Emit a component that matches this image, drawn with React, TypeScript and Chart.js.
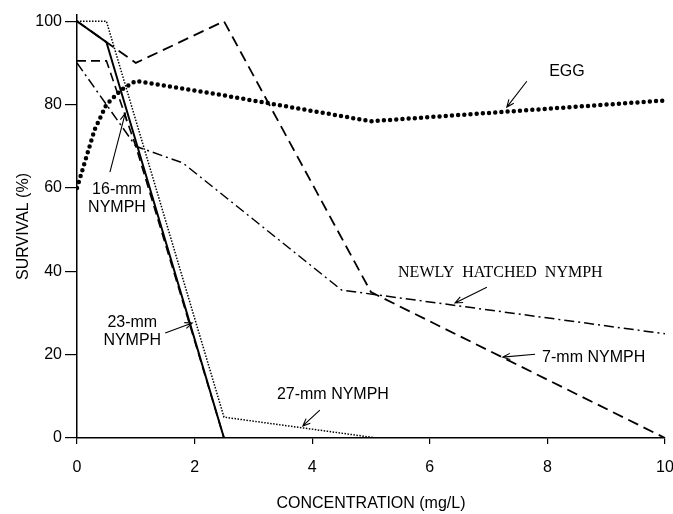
import React, { useEffect, useRef } from "react";
import { Chart, registerables } from "chart.js";

Chart.register(...registerables);

// ---- Data ----
const xTicks = [0, 2, 4, 6, 8, 10];
const yTicks = [0, 20, 40, 60, 80, 100];

const eggX = [0, 0.15, 0.3, 0.5, 0.75, 1, 2.5, 5, 7.5, 10];
const eggY = [60, 67, 74, 80, 83.5, 85.7, 82.2, 76, 78.5, 81];

const mm16X = [0, 0.5, 1, 2.5];
const mm16Y = [90.5, 90.5, 70, 0];

const mm23X = [0, 0.5, 2.5];
const mm23Y = [100, 95, 0];

const mm27X = [0, 0.5, 2.5, 5.1];
const mm27Y = [100, 100, 5, 0];

const mm7X = [0, 1, 2.5, 5, 10];
const mm7Y = [100, 90, 100, 35, 0];

const newlyX = [0, 1, 1.8, 4.5, 10];
const newlyY = [90, 70, 66, 35.5, 25];

const SANS = '"Liberation Sans", Arial, Helvetica, sans-serif';
const SERIF = '"Liberation Serif", "Times New Roman", serif';

// annotation labels: text lines with data positions, arrow tail/tip in data units
const annotations = [
  { lines: ["EGG"], ys: [88], x: 8.03, align: "left", family: SANS, tail: [7.65, 85.6], tip: [7.31, 79.4] },
  { lines: ["16-mm", "NYMPH"], ys: [59.5, 55.2], x: 0.68, align: "center", family: SANS, tail: [0.56, 63.8], tip: [0.82, 77.9] },
  { lines: ["23-mm", "NYMPH"], ys: [27.6, 23.3], x: 0.94, align: "center", family: SANS, tail: [1.5, 25.2], tip: [1.96, 27.6] },
  { lines: ["NEWLY  HATCHED  NYMPH"], ys: [39.6], x: 5.46, align: "left", family: SERIF, tail: [6.97, 36.2], tip: [6.43, 32.4] },
  { lines: ["7-mm NYMPH"], ys: [19.4], x: 7.91, align: "left", family: SANS, tail: [7.79, 20.1], tip: [7.24, 19.4] },
  { lines: ["27-mm NYMPH"], ys: [10.3], x: 3.4, align: "left", family: SANS, tail: [4.13, 6.7], tip: [3.84, 2.9] },
];

const toPts = (xs: number[], ys: number[]) => xs.map((x, i) => ({ x, y: ys[i] }));

const annotationPlugin = {
  id: "annots",
  afterDraw(chart: any) {
    const { ctx, scales } = chart;
    const xs = scales.x;
    const ys = scales.y;
    ctx.save();
    ctx.fillStyle = "#000";
    ctx.strokeStyle = "#000";
    for (const a of annotations) {
      ctx.font = `16px ${a.family}`;
      ctx.textAlign = a.align as CanvasTextAlign;
      ctx.textBaseline = "middle";
      a.lines.forEach((t, i) => {
        ctx.fillText(t, xs.getPixelForValue(a.x), ys.getPixelForValue(a.ys[i]));
      });
      const x1 = xs.getPixelForValue(a.tail[0]);
      const y1 = ys.getPixelForValue(a.tail[1]);
      const x2 = xs.getPixelForValue(a.tip[0]);
      const y2 = ys.getPixelForValue(a.tip[1]);
      ctx.lineWidth = 1.1;
      ctx.setLineDash([]);
      ctx.beginPath();
      ctx.moveTo(x1, y1);
      ctx.lineTo(x2, y2);
      const ang = Math.atan2(y2 - y1, x2 - x1);
      const L = 8;
      ctx.moveTo(x2 - L * Math.cos(ang - 0.4), y2 - L * Math.sin(ang - 0.4));
      ctx.lineTo(x2, y2);
      ctx.lineTo(x2 - L * Math.cos(ang + 0.4), y2 - L * Math.sin(ang + 0.4));
      ctx.stroke();
    }
    ctx.restore();
  },
};

export default function App() {
  const ref = useRef<HTMLCanvasElement | null>(null);
  useEffect(() => {
    if (!ref.current) return;
    const font = { family: SANS, size: 16 };
    const base = { pointRadius: 0, fill: false, tension: 0, borderColor: "#000" };
    const chart = new Chart(ref.current, {
      type: "line",
      data: {
        datasets: [
          { ...base, label: "EGG", data: toPts(eggX, eggY), borderWidth: 4.5, borderDash: [0, 6.2], borderCapStyle: "round" },
          { ...base, label: "16-mm NYMPH", data: toPts(mm16X, mm16Y), borderWidth: 1.6, borderDash: [9, 5] },
          { ...base, label: "23-mm NYMPH", data: toPts(mm23X, mm23Y), borderWidth: 2 },
          { ...base, label: "27-mm NYMPH", data: toPts(mm27X, mm27Y), borderWidth: 1.5, borderDash: [1.5, 1.5] },
          { ...base, label: "7-mm NYMPH", data: toPts(mm7X, mm7Y), borderWidth: 1.8, borderDash: [11, 6] },
          { ...base, label: "NEWLY HATCHED NYMPH", data: toPts(newlyX, newlyY), borderWidth: 1.5, borderDash: [10, 4, 2, 4] },
        ],
      } as any,
      options: {
        responsive: false,
        animation: false,
        layout: { padding: { left: 0, right: 8, top: 15, bottom: 0 } },
        plugins: { legend: { display: false }, tooltip: { enabled: false } },
        scales: {
          x: {
            type: "linear",
            min: 0,
            max: 10,
            afterBuildTicks: (s: any) => {
              s.ticks = xTicks.map((v) => ({ value: v }));
            },
            ticks: { stepSize: 2, font, color: "#000", padding: 14, maxRotation: 0 },
            grid: { drawOnChartArea: false, drawTicks: true, tickLength: 6, color: "#000", lineWidth: 1.2 },
            border: { color: "#000", width: 1.5 },
            title: { display: true, text: "CONCENTRATION (mg/L)", font, color: "#000", padding: { top: 4, bottom: 1 } },
            afterFit: (s: any) => {
              s.height = 76;
              s.paddingLeft = 0;
              s.paddingRight = 0;
            },
          },
          y: {
            type: "linear",
            min: 0,
            max: 101.5,
            afterBuildTicks: (s: any) => {
              s.ticks = yTicks.map((v) => ({ value: v }));
            },
            ticks: { stepSize: 20, font, color: "#000", padding: 3 },
            grid: { drawOnChartArea: false, drawTicks: true, tickLength: 12, color: "#000", lineWidth: 1.2 },
            border: { color: "#000", width: 1.5 },
            title: { display: true, text: "SURVIVAL (%)", font, color: "#000", padding: { top: 14, bottom: 4 } },
            afterFit: (s: any) => {
              s.width = 77;
            },
          },
        },
      } as any,
      plugins: [annotationPlugin],
    });
    return () => chart.destroy();
  }, []);
  return (
    <canvas
      ref={ref}
      width={673}
      height={514}
      style={{ position: "absolute", left: 0, top: 0, width: 673, height: 514, background: "#fff" }}
    />
  );
}
